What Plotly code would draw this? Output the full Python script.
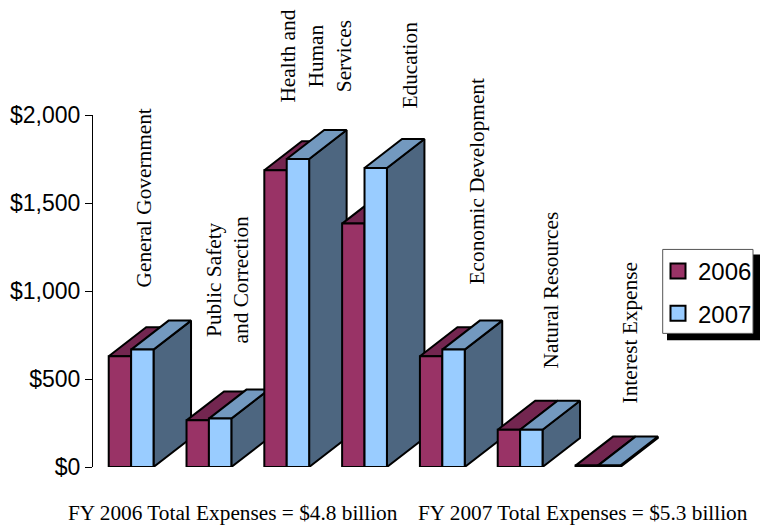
import plotly.graph_objects as go

# Expenses by function, millions of dollars
categories = ["General Government", "Public Safety and Correction", "Health and Human Services",
              "Education", "Economic Development", "Natural Resources", "Interest Expense"]
values_2006 = [629, 265, 1686, 1383, 629, 212, 8]
values_2007 = [667, 275, 1750, 1699, 667, 212, 8]
y_ticks = [0, 500, 1000, 1500, 2000]
y_tick_labels = ["$0", "$500", "$1,000", "$1,500", "$2,000"]

W, H = 770, 529
PLOT_L, PLOT_T, PLOT_B = 93, 114.5, 466.7
UNIT_X = 77.8                 # pixels per category
UNIT_Y = (PLOT_B - PLOT_T) / 2000
BAR_W = 0.288                 # bar width in category units
DEPTH_X = 37.5 / UNIT_X       # oblique depth offset in data units
DEPTH_Y = 29 / UNIT_Y

COLORS = {
    "2006": dict(front="#993366", top="#732650", side="#4D1A33"),
    "2007": dict(front="#99CCFF", top="#7399BF", side="#4D6680"),
}
OUTLINE = dict(color="black", width=2)


def face(xs, ys, fill):
    return go.Scatter(x=xs, y=ys, mode="lines", fill="toself", fillcolor=fill, line=OUTLINE,
                      showlegend=False, hoverinfo="skip", cliponaxis=False)


def box_faces(x0, value, colors):
    """Side, top and front of one oblique bar, back to front."""
    x1 = x0 + BAR_W
    return [
        face([x1, x1 + DEPTH_X, x1 + DEPTH_X, x1, x1],
             [0, DEPTH_Y, value + DEPTH_Y, value, 0], colors["side"]),
        face([x0, x1, x1 + DEPTH_X, x0 + DEPTH_X, x0],
             [value, value, value + DEPTH_Y, value + DEPTH_Y, value], colors["top"]),
        face([x0, x1, x1, x0, x0], [0, 0, value, value, 0], colors["front"]),
    ]


fig = go.Figure()
for i, (v06, v07) in enumerate(zip(values_2006, values_2007)):
    fig.add_traces(box_faces(i - BAR_W, v06, COLORS["2006"]))
    fig.add_traces(box_faces(i, v07, COLORS["2007"]))

# Legend swatches
for name in ("2006", "2007"):
    fig.add_trace(go.Scatter(x=[None], y=[None], mode="markers", name=name, legendgroup=name,
                             marker=dict(symbol="square", size=15, color=COLORS[name]["front"],
                                         line=dict(color="black", width=2))))


# Paper fractions are measured against the plot area
def px(x):
    return (x - PLOT_L) / (W - PLOT_L)


def py(y):
    return (PLOT_B - y) / (PLOT_B - PLOT_T)


# Pixel-placed rotated category labels: text, x centre, y centre
rotated_labels = [
    ("General Government", 144, 198),
    ("Public Safety<br>and Correction", 228, 280),
    ("Health and<br>Human<br>Services", 316, 56),
    ("Education", 410, 65),
    ("Economic Development", 477, 181),
    ("Natural Resources", 551, 290),
    ("Interest Expense", 630, 333),
]
serif = dict(family="Liberation Serif", size=21.3, color="black")
annotations = [dict(text=t, x=px(x), y=py(y), xref="paper", yref="paper", textangle=-90,
                    showarrow=False, font=serif, align="center", xanchor="center", yanchor="middle")
               for t, x, y in rotated_labels]
for text, x in [("FY 2006 Total Expenses = $4.8 billion", 232.5),
                ("FY 2007 Total Expenses = $5.3 billion", 583)]:
    annotations.append(dict(text=text, x=px(x), y=py(513), xref="paper", yref="paper",
                            showarrow=False, font=serif, xanchor="center", yanchor="middle"))

fig.update_layout(
    width=W, height=H, autosize=False,
    margin=dict(l=PLOT_L, r=0, t=PLOT_T, b=H - PLOT_B, pad=0),
    paper_bgcolor="white", plot_bgcolor="rgba(0,0,0,0)",
    font=dict(family="Liberation Sans", size=23, color="black"),
    annotations=annotations,
    xaxis=dict(range=[-0.49, -0.49 + (W - PLOT_L) / UNIT_X], visible=False),
    yaxis=dict(range=[0, 2000], tickmode="array", tickvals=y_ticks, ticktext=y_tick_labels,
               ticks="outside", ticklen=7, tickwidth=1, tickcolor="black",
               showline=True, linecolor="black", linewidth=1, showgrid=False, zeroline=False,
               tickfont=dict(family="Liberation Sans", size=23)),
    # The legend sits transparent on a drop-shadowed panel drawn as two rectangles
    legend=dict(x=px(658), y=py(248.5), xanchor="left", yanchor="top", bgcolor="rgba(0,0,0,0)",
                borderwidth=0, tracegroupgap=8, itemwidth=30,
                font=dict(family="Liberation Sans", size=24)),
    shapes=[dict(type="rect", xref="paper", yref="paper", layer="below",
                 x0=px(667), x1=px(760), y0=py(340), y1=py(254),
                 fillcolor="black", line=dict(width=0)),
            dict(type="rect", xref="paper", yref="paper", layer="below",
                 x0=px(662.7), x1=px(753), y0=py(333), y1=py(249),
                 fillcolor="white", line=dict(color="#555555", width=1))],
)

fig.write_html("out.html", config=dict(displayModeBar=False))
